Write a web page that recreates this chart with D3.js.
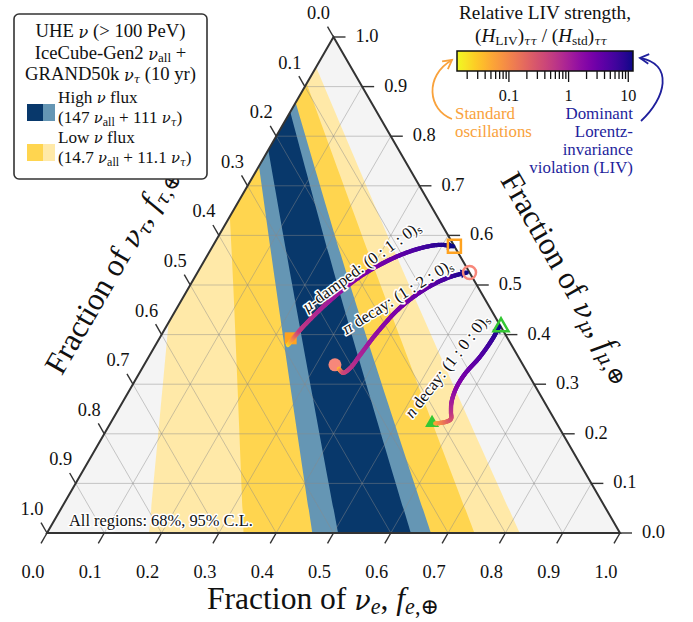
<!DOCTYPE html>
<html>
<head>
<meta charset="utf-8">
<script src="https://cdn.jsdelivr.net/npm/d3@7"></script>
<style>
  body { margin: 0; background: #fff; }
  text { font-family: "Liberation Serif", "DejaVu Serif", serif; }
</style>
</head>
<body>
<div id="chart"></div>
<script>
// ---- data ----
const tickValues = [0, 0.1, 0.2, 0.3, 0.4, 0.5, 0.6, 0.7, 0.8, 0.9, 1.0];

// contour boundaries as [f_mu, f_tau], running from the bottom edge up past the left edge
const lightYellowLeft  = [[0, 0.822], [0.5, 0.532], [1, 0.247]];
const yellowLeft       = [[0, 0.657], [0.5, 0.425], [1, 0.197]];
const lightBlueLeft    = [[0, 0.537], [0.5, 0.351], [1, 0.161]];
const darkBlueLeft     = [[0, 0.492], [0.5, 0.322], [1, 0.148]];
const darkBlueRight    = [[0, 0.365], [0.5, 0.243], [1, 0.110]];
const lightBlueRight   = [[0, 0.330], [0.5, 0.221], [1, 0.099]];
const yellowRight      = [[0, 0.254], [0.5, 0.168], [1, 0.076]];
const lightYellowRight = [[0, 0.175], [0.5, 0.118], [1, 0.0525]];

const bandColors = { lightYellow: "#ffe9a8", yellow: "#ffd54f", lightBlue: "#6596b4", darkBlue: "#08386b" };

// LIV trajectories: [f_e, f_mu, LIV strength]
const muDamped = [[0.231, 0.379, 0.02], [0.237, 0.409, 0.55], [0.257, 0.463, 1.0], [0.288, 0.517, 2.2],
                  [0.327, 0.554, 3.1], [0.364, 0.574, 5.3], [0.396, 0.581, 8.5], [0.420, 0.578, 12]];
const pionDecay = [[0.344, 0.331, 0.03], [0.355, 0.323, 0.35], [0.363, 0.333, 0.6], [0.367, 0.359, 0.9],
                   [0.374, 0.403, 1.5], [0.389, 0.454, 2.4], [0.416, 0.494, 3.6], [0.445, 0.516, 6], [0.470, 0.525, 12]];
const neutronDecay = [[0.567, 0.221, 0.05], [0.584, 0.224, 0.15], [0.590, 0.230, 0.29], [0.583, 0.244, 0.57],
                      [0.574, 0.264, 1.0], [0.568, 0.292, 1.8], [0.569, 0.321, 2.7], [0.578, 0.355, 4.3],
                      [0.582, 0.393, 6.9], [0.581, 0.416, 12]];

// markers: [f_e, f_mu]
const stdPoints = { mu: [0.229, 0.3925], pi: [0.333, 0.339], n: [0.561, 0.222] };
const livPoints = { mu: [0.422, 0.578], pi: [0.4748, 0.5252], n: [0.5847, 0.4153] };
const markerColors = { mu: "#ffa21f", pi: "#f7877a", n: "#34c734" };

// colorbar
const livDomain = [0.0135, 12];
const livMajor = [0.1, 1, 10];
const livMajorLabels = ["0.1", "1", "10"];

// ---- layout ----
const W = 693, H = 622;
const svg = d3.select("#chart").append("svg").attr("width", W).attr("height", H);
const defs = svg.append("defs");

const tx = d3.scaleLinear().domain([0, 1]).range([47, 620]);
const ty = d3.scaleLinear().domain([0, 1]).range([533, 37]);
const proj = (fe, fmu) => [tx(fe + fmu / 2), ty(fmu)];
const projMT = d => proj(1 - d[0] - d[1], d[0]);

const corners = [proj(0, 0), proj(1, 0), proj(0, 1)];

// text with italic / greek / subscript pieces, optionally scaled to a target width
function richText(parent, attrs, parts, size, target) {
  const build = s => {
    const t = parent.append("text").attr("fill", "#111");
    Object.entries(attrs).forEach(([k, v]) => t.attr(k, v));
    t.attr("font-size", s);
    let down = 0;
    parts.forEach(p => {
      const ts = t.append("tspan").text(p.t);
      let fs = s;
      if (p.i) ts.attr("font-style", "italic");
      if (p.g) { ts.attr("font-family", "DejaVu Serif"); fs *= 0.86; }
      if (p.sub) {
        fs *= 0.7;
        if (!down) { ts.attr("dy", s * 0.22); down = 1; }
      } else if (down) { ts.attr("dy", -s * 0.22); down = 0; }
      if (fs !== s) ts.attr("font-size", fs);
    });
    return t;
  };
  let t = build(size);
  if (target) {
    const w = t.node().getComputedTextLength();
    t.remove();
    size = size * target / w;
    t = build(size);
  }
  t.size = size;
  return t;
}
const plain = s => [{ t: s }];

defs.append("clipPath").attr("id", "tri")
  .append("path").attr("d", "M" + corners.join("L") + "Z");

// ---- triangle background and bands ----
const plot = svg.append("g").attr("clip-path", "url(#tri)");
plot.append("path").attr("d", "M" + corners.join("L") + "Z").attr("fill", "#f4f4f4");

const smooth = d3.line().curve(d3.curveCatmullRom.alpha(0.5));
function bandPath(left, right) {
  const a = smooth(left.map(projMT));
  const b = smooth(right.slice().reverse().map(projMT)).replace(/^M/, "L");
  return a + b + "Z";
}
[
  [lightYellowLeft, lightYellowRight, bandColors.lightYellow],
  [yellowLeft, yellowRight, bandColors.yellow],
  [lightBlueLeft, lightBlueRight, bandColors.lightBlue],
  [darkBlueLeft, darkBlueRight, bandColors.darkBlue]
].forEach(([l, r, c]) => {
  plot.append("path").attr("d", bandPath(l, r)).attr("fill", c);
});

// grid lines
const inner = tickValues.slice(1, -1);
const grid = plot.append("g").attr("stroke", "#8a8a8a").attr("stroke-opacity", 0.5).attr("stroke-width", 0.9);
inner.forEach(v => {
  const segs = [
    [proj(0, v), proj(1 - v, v)],          // constant f_mu
    [proj(v, 0), proj(v, 1 - v)],          // constant f_e
    [proj(1 - v, 0), proj(0, 1 - v)]       // constant f_tau
  ];
  segs.forEach(s => grid.append("line")
    .attr("x1", s[0][0]).attr("y1", s[0][1]).attr("x2", s[1][0]).attr("y2", s[1][1]));
});

// border
svg.append("path").attr("d", "M" + corners.join("L") + "Z")
  .attr("fill", "none").attr("stroke", "#333").attr("stroke-width", 2);

// ---- ticks ----
const tk = 12, c60 = 0.5, s60 = Math.sqrt(3) / 2;
const axes = svg.append("g").attr("stroke", "#333").attr("stroke-width", 1.4);
const tickSize = richText(svg, {}, plain("0.0"), 18, 23);
const tickFont = tickSize.size;
tickSize.remove();
const tickText = svg.append("g");
const tickLabel = (x, y, anchor, s) => richText(tickText, { x, y, "text-anchor": anchor, "dominant-baseline": "middle" }, plain(s), tickFont);
tickValues.forEach(v => {
  const lab = d3.format(".1f")(v);
  // bottom: f_e
  let p = proj(v, 0);
  axes.append("line").attr("x1", p[0]).attr("y1", p[1]).attr("x2", p[0] - tk * c60).attr("y2", p[1] + tk * s60);
  tickLabel(p[0] - 14, p[1] + 41, "middle", lab);
  // right: f_mu
  p = proj(1 - v, v);
  axes.append("line").attr("x1", p[0]).attr("y1", p[1]).attr("x2", p[0] + tk).attr("y2", p[1]);
  tickLabel(p[0] + 22, p[1] + 1, "start", lab);
  // left: f_tau
  p = proj(0, 1 - v);
  axes.append("line").attr("x1", p[0]).attr("y1", p[1]).attr("x2", p[0] - tk * c60).attr("y2", p[1] - tk * s60);
  tickLabel(p[0] - 15, p[1] - 22, "middle", lab);
});

// axis titles
const axisTitle = (fl) => [{ t: "Fraction of " }, { t: "ν", i: 1, g: 1 }, { t: fl, i: 1, sub: 1, g: fl !== "e" }, { t: ", " },
                           { t: "f", i: 1 }, { t: fl, i: 1, sub: 1, g: fl !== "e" }, { t: ",⊕", sub: 1 }];
const bottomTitle = richText(svg, { x: 323, y: 602, "text-anchor": "middle", "dominant-baseline": "middle" }, axisTitle("e"), 30, 232);
const titleFont = bottomTitle.size;
richText(svg, { "text-anchor": "middle", "dominant-baseline": "middle", transform: "translate(114,272) rotate(-60)" }, axisTitle("τ"), titleFont);
richText(svg, { "text-anchor": "middle", "dominant-baseline": "middle", transform: "translate(565,279) rotate(60)" }, axisTitle("μ"), titleFont);

// ---- LIV colour scale ----
const cbX = d3.scaleLog().domain(livDomain).range([457, 633]);
const cbT = d3.scaleLog().domain(livDomain).range([0, 1]).clamp(true);
const livColor = v => d3.interpolatePlasma(1 - cbT(v));

// ---- trajectories ----
function drawTrajectory(data) {
  const pts = data.map(d => proj(d[0], d[1]));
  const tmp = svg.append("path").attr("d", smooth(pts)).attr("fill", "none");
  const node = tmp.node();
  const total = node.getTotalLength();
  // cumulative chord lengths to map length -> LIV
  const cum = [0];
  for (let i = 1; i < pts.length; i++) cum.push(cum[i - 1] + Math.hypot(pts[i][0] - pts[i - 1][0], pts[i][1] - pts[i - 1][1]));
  const frac = cum.map(c => c / cum[cum.length - 1]);
  const logLiv = d3.scaleLinear().domain(frac).range(data.map(d => Math.log10(d[2])));
  const n = 120;
  const g = svg.append("g").attr("fill", "none").attr("stroke-width", 4.3).attr("stroke-linecap", "round");
  let prev = node.getPointAtLength(0);
  for (let k = 1; k <= n; k++) {
    const cur = node.getPointAtLength(total * k / n);
    const liv = Math.pow(10, logLiv((k - 0.5) / n));
    g.append("line").attr("x1", prev.x).attr("y1", prev.y).attr("x2", cur.x).attr("y2", cur.y)
      .attr("stroke", livColor(liv));
    prev = cur;
  }
  // arrowhead at the end
  const a = node.getPointAtLength(total - 6), b = node.getPointAtLength(total);
  const ang = Math.atan2(b.y - a.y, b.x - a.x);
  const L = 8, Wd = 4.5;
  const tip = [b.x + Math.cos(ang) * 2, b.y + Math.sin(ang) * 2];
  const base = [tip[0] - Math.cos(ang) * L, tip[1] - Math.sin(ang) * L];
  const nx = -Math.sin(ang), ny = Math.cos(ang);
  svg.append("path")
    .attr("d", `M${tip}L${base[0] + nx * Wd},${base[1] + ny * Wd}L${base[0] - nx * Wd},${base[1] - ny * Wd}Z`)
    .attr("fill", livColor(livDomain[1]));
  tmp.remove();
}

// filled (standard) markers
const mk = svg.append("g");
function square(p, s) { return `M${p[0] - s / 2},${p[1] - s / 2}h${s}v${s}h${-s}Z`; }
function triangle(p, s) {
  const h = s * Math.sqrt(3) / 2;
  return `M${p[0]},${p[1] - h * 2 / 3}L${p[0] + s / 2},${p[1] + h / 3}L${p[0] - s / 2},${p[1] + h / 3}Z`;
}
mk.append("path").attr("d", square(proj(...stdPoints.mu), 12)).attr("fill", markerColors.mu);
mk.append("circle").attr("cx", proj(...stdPoints.pi)[0]).attr("cy", proj(...stdPoints.pi)[1]).attr("r", 6.5).attr("fill", markerColors.pi);
mk.append("path").attr("d", triangle(proj(...stdPoints.n), 14)).attr("fill", markerColors.n);

drawTrajectory(muDamped);
drawTrajectory(pionDecay);
drawTrajectory(neutronDecay);

// hollow (LIV-dominated) markers
const mk2 = svg.append("g").attr("fill", "none").attr("stroke-width", 2.5);
mk2.append("path").attr("d", square(proj(...livPoints.mu), 13)).attr("stroke", markerColors.mu);
mk2.append("circle").attr("cx", proj(...livPoints.pi)[0]).attr("cy", proj(...livPoints.pi)[1]).attr("r", 6.5).attr("stroke", markerColors.pi);
mk2.append("path").attr("d", triangle(proj(...livPoints.n), 15)).attr("stroke", markerColors.n);

// trajectory labels
const halo = { stroke: "#fff", "stroke-width": 3, "paint-order": "stroke", "stroke-linejoin": "round" };
const pathLabels = [
  { x: 362, y: 268, rot: -36, parts: [{ t: "μ", i: 1, g: 1 }, { t: "-damped: (0 : 1 : 0)" }, { t: "s", sub: 1 }] },
  { x: 398, y: 298, rot: -32, parts: [{ t: "π", i: 1, g: 1 }, { t: " decay: (1 : 2 : 0)" }, { t: "s", sub: 1 }] },
  { x: 448, y: 367, rot: -52, parts: [{ t: "n", i: 1 }, { t: " decay: (1 : 0 : 0)" }, { t: "s", sub: 1 }] }
];
let labelFont = null;
pathLabels.forEach(d => {
  const t = richText(svg, Object.assign({ "text-anchor": "middle", "dominant-baseline": "middle",
    transform: `translate(${d.x},${d.y}) rotate(${d.rot})` }, halo), d.parts, labelFont || 16, labelFont ? null : 142);
  labelFont = t.size;
});

richText(svg, Object.assign({ x: 69, y: 526 }, halo), plain("All regions: 68%, 95% C.L."), 15, 184);

// ---- colorbar ----
const grad = defs.append("linearGradient").attr("id", "plasma");
d3.range(0, 1.0001, 0.05).forEach(o => grad.append("stop").attr("offset", o).attr("stop-color", d3.interpolatePlasma(1 - o)));
svg.append("rect").attr("x", cbX.range()[0]).attr("y", 51).attr("width", cbX.range()[1] - cbX.range()[0]).attr("height", 20)
  .attr("fill", "url(#plasma)").attr("stroke", "#111").attr("stroke-width", 1.5);
const minor = [];
[0.01, 0.1, 1].forEach(dec => d3.range(1, 10).forEach(m => {
  const v = dec * m;
  if (v >= livDomain[0] && v <= livDomain[1] && !livMajor.includes(v)) minor.push(v);
}));
const cbt = svg.append("g").attr("stroke", "#111").attr("stroke-width", 1.3);
minor.forEach(v => cbt.append("line").attr("x1", cbX(v)).attr("x2", cbX(v)).attr("y1", 71).attr("y2", 79));
livMajor.forEach((v, i) => {
  cbt.append("line").attr("x1", cbX(v)).attr("x2", cbX(v)).attr("y1", 71).attr("y2", 82);
  richText(svg, { x: cbX(v), y: 97, "text-anchor": "middle", "dominant-baseline": "middle" }, plain(livMajorLabels[i]), tickFont * 0.88);
});
const cbTitle = richText(svg, { x: 545, y: 15, "text-anchor": "middle", "dominant-baseline": "middle" }, plain("Relative LIV strength,"), 17, 172);
richText(svg, { x: 541, y: 38, "text-anchor": "middle", "dominant-baseline": "middle" },
  [{ t: "(" }, { t: "H", i: 1 }, { t: "LIV", sub: 1 }, { t: ")" }, { t: "ττ", i: 1, g: 1, sub: 1 }, { t: " / (" },
   { t: "H", i: 1 }, { t: "std", sub: 1 }, { t: ")" }, { t: "ττ", i: 1, g: 1, sub: 1 }], cbTitle.size);

// annotations with arrows
const orange = "#f9a23c", navy = "#1f1f9c";
function arrow(d, tip, from, color) {
  svg.append("path").attr("d", d).attr("fill", "none").attr("stroke", color).attr("stroke-width", 1.8);
  const ang = Math.atan2(tip[1] - from[1], tip[0] - from[0]);
  const L = 10, sp = 0.5;
  const p1 = [tip[0] - L * Math.cos(ang - sp), tip[1] - L * Math.sin(ang - sp)];
  const p2 = [tip[0] - L * Math.cos(ang + sp), tip[1] - L * Math.sin(ang + sp)];
  svg.append("path").attr("d", `M${p1}L${tip}L${p2}`).attr("fill", "none").attr("stroke", color)
    .attr("stroke-width", 1.8);
}
arrow("M452,119C428,110 424,76 452,60", [452, 60], [436, 72], orange);
arrow("M641,121C666,98 674,64 640,58", [640, 58], [660, 60], navy);

const annoSize = richText(svg, {}, plain("oscillations"), 16, 77);
const annoFont = annoSize.size;
annoSize.remove();
["Standard", "oscillations"].forEach((s, i) =>
  richText(svg, { x: 455, y: 115 + i * 18, "dominant-baseline": "middle", fill: orange }, plain(s), annoFont));
["Dominant", "Lorentz-", "invariance", "violation (LIV)"].forEach((s, i) =>
  richText(svg, { x: 633, y: 115 + i * 18, "text-anchor": "end", "dominant-baseline": "middle", fill: navy }, plain(s), annoFont));

// ---- legend ----
const lg = svg.append("g");
lg.append("rect").attr("x", 14).attr("y", 14).attr("width", 193).attr("height", 165).attr("rx", 5)
  .attr("fill", "#fff").attr("stroke", "#333").attr("stroke-width", 1.6);
const legendTitle = [
  [{ t: "UHE " }, { t: "ν", i: 1, g: 1 }, { t: " (> 100 PeV)" }],
  [{ t: "IceCube-Gen2 " }, { t: "ν", i: 1, g: 1 }, { t: "all", sub: 1 }, { t: " +" }],
  [{ t: "GRAND50k " }, { t: "ν", i: 1, g: 1 }, { t: "τ", i: 1, g: 1, sub: 1 }, { t: " (10 yr)" }]
];
const lgMeasure = richText(lg, {}, legendTitle[0], 17, 150);
const legendFont = lgMeasure.size;
lgMeasure.remove();
legendTitle.forEach((parts, i) =>
  richText(lg, { x: 110.5, y: 33 + i * 21.5, "text-anchor": "middle", "dominant-baseline": "middle" }, parts, legendFont));
const legendItems = [
  { y: 104, colors: [bandColors.darkBlue, bandColors.lightBlue],
    l1: [{ t: "High " }, { t: "ν", i: 1, g: 1 }, { t: " flux" }],
    l2: [{ t: "(147 " }, { t: "ν", i: 1, g: 1 }, { t: "all", sub: 1 }, { t: " + 111 " }, { t: "ν", i: 1, g: 1 }, { t: "τ", i: 1, g: 1, sub: 1 }, { t: ")" }] },
  { y: 144, colors: [bandColors.yellow, bandColors.lightYellow],
    l1: [{ t: "Low " }, { t: "ν", i: 1, g: 1 }, { t: " flux" }],
    l2: [{ t: "(14.7 " }, { t: "ν", i: 1, g: 1 }, { t: "all", sub: 1 }, { t: " + 11.1 " }, { t: "ν", i: 1, g: 1 }, { t: "τ", i: 1, g: 1, sub: 1 }, { t: ")" }] }
];
legendItems.forEach(d => {
  lg.append("rect").attr("x", 27).attr("y", d.y).attr("width", 16).attr("height", 17).attr("fill", d.colors[0]);
  lg.append("rect").attr("x", 43).attr("y", d.y).attr("width", 12).attr("height", 17).attr("fill", d.colors[1]);
  richText(lg, { x: 58, y: d.y - 5, "dominant-baseline": "middle" }, d.l1, legendFont * 0.92);
  richText(lg, { x: 58, y: d.y + 15, "dominant-baseline": "middle" }, d.l2, legendFont * 0.92);
});
</script>
</body>
</html>
